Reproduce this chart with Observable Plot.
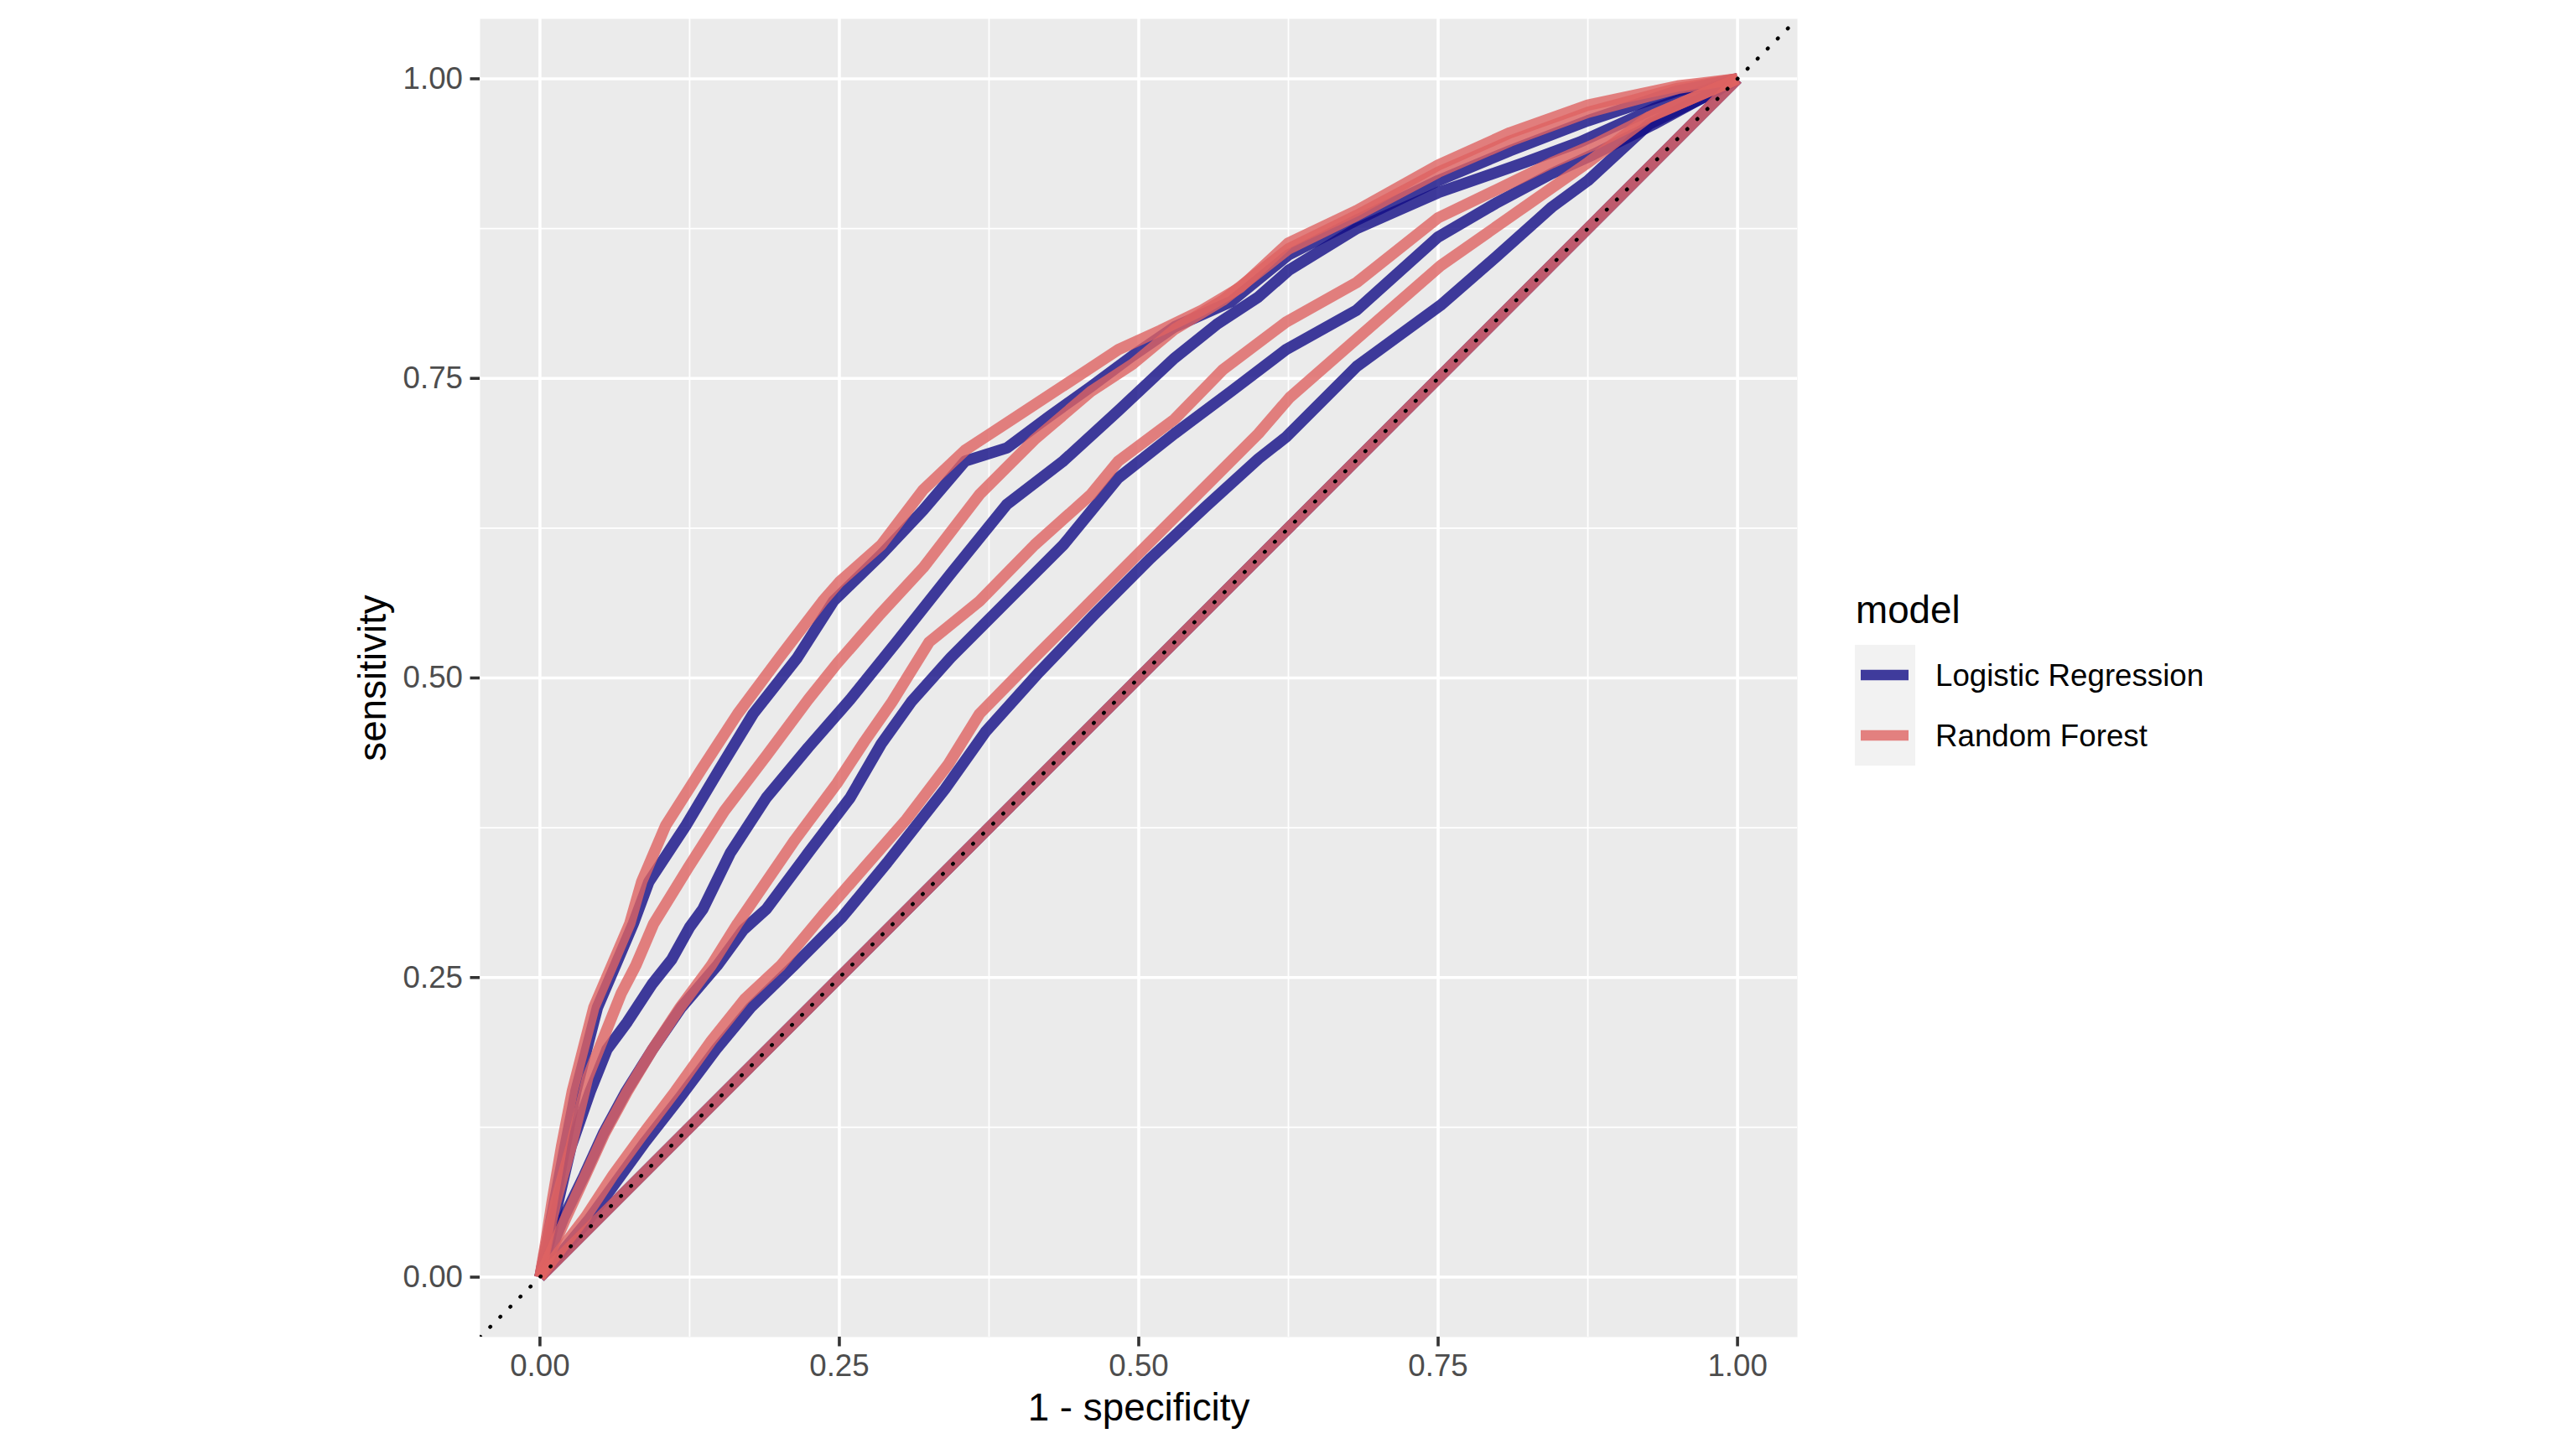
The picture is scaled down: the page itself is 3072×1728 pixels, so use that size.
<!DOCTYPE html>
<html>
<head>
<meta charset="utf-8">
<script src="https://cdn.jsdelivr.net/npm/d3@7"></script>
<script src="https://cdn.jsdelivr.net/npm/@observablehq/plot@0.6"></script>
<style>
  html, body { margin: 0; padding: 0; background: #ffffff; }
  #wrap { position: relative; width: 3072px; height: 1728px; overflow: hidden; }
  #legend { position: absolute; left: 2200px; top: 690px; }
</style>
</head>
<body>
<div id="wrap"></div>
<script>
// ---- data (1 - specificity, sensitivity) ----
const models = ["Logistic Regression", "Random Forest"];
const modelColors = ["#120C86", "#DE6362"];

const xTicks = [0, 0.25, 0.5, 0.75, 1];
const xMinor = [0.125, 0.375, 0.625, 0.875];
const yTicks = [0, 0.25, 0.5, 0.75, 1];
const yMinor = [0.125, 0.375, 0.625, 0.875];
const axisDomain = [-0.05, 1.05];

const lr1 = [[0,0],[0.006,0.03],[0.012,0.062],[0.021,0.109],[0.03,0.155],[0.039,0.19],[0.048,0.225],[0.063,0.26],[0.078,0.295],[0.091,0.33],[0.122,0.377],[0.15,0.424],[0.178,0.47],[0.215,0.517],[0.245,0.564],[0.285,0.603],[0.32,0.64],[0.355,0.681],[0.39,0.692],[0.425,0.718],[0.46,0.743],[0.495,0.769],[0.53,0.793],[0.577,0.814],[0.625,0.853],[0.682,0.882],[0.75,0.915],[0.81,0.94],[0.875,0.965],[0.95,0.99],[1,1]];
const lr2 = [[0,0],[0.008,0.03],[0.015,0.062],[0.026,0.109],[0.042,0.155],[0.056,0.19],[0.073,0.213],[0.094,0.245],[0.11,0.265],[0.125,0.292],[0.136,0.307],[0.159,0.354],[0.189,0.4],[0.224,0.442],[0.259,0.482],[0.297,0.529],[0.343,0.587],[0.39,0.645],[0.437,0.681],[0.483,0.723],[0.53,0.767],[0.565,0.795],[0.6,0.818],[0.625,0.84],[0.682,0.875],[0.75,0.905],[0.822,0.93],[0.868,0.947],[0.93,0.975],[1,1]];
const lr3 = [[0,0],[0.02,0.05],[0.037,0.085],[0.053,0.12],[0.072,0.155],[0.094,0.19],[0.118,0.225],[0.148,0.26],[0.17,0.29],[0.189,0.307],[0.224,0.354],[0.259,0.4],[0.285,0.445],[0.31,0.48],[0.343,0.517],[0.39,0.564],[0.437,0.611],[0.483,0.667],[0.53,0.704],[0.577,0.739],[0.623,0.774],[0.682,0.807],[0.75,0.868],[0.798,0.896],[0.845,0.921],[0.88,0.937],[0.93,0.962],[1,1]];
const lr4 = [[0,0],[0.016,0.018],[0.04,0.047],[0.064,0.08],[0.088,0.113],[0.117,0.15],[0.147,0.19],[0.176,0.225],[0.212,0.26],[0.252,0.3],[0.29,0.346],[0.338,0.407],[0.372,0.455],[0.417,0.505],[0.463,0.553],[0.51,0.6],[0.556,0.643],[0.6,0.683],[0.623,0.701],[0.682,0.76],[0.752,0.811],[0.798,0.851],[0.845,0.893],[0.875,0.915],[0.926,0.962],[0.983,0.99],[1,1]];
const lr5 = [[0,0],[1,1]];

const rf1 = [[0,0],[0.005,0.03],[0.01,0.062],[0.018,0.109],[0.027,0.155],[0.036,0.19],[0.045,0.225],[0.06,0.26],[0.075,0.295],[0.085,0.33],[0.105,0.377],[0.135,0.424],[0.165,0.47],[0.2,0.517],[0.236,0.564],[0.25,0.58],[0.285,0.611],[0.32,0.657],[0.355,0.69],[0.381,0.707],[0.413,0.728],[0.448,0.751],[0.483,0.774],[0.518,0.79],[0.553,0.807],[0.585,0.826],[0.625,0.863],[0.682,0.89],[0.75,0.928],[0.81,0.955],[0.875,0.978],[0.95,0.994],[1,1]];
const rf2 = [[0,0],[0.006,0.03],[0.013,0.062],[0.026,0.109],[0.04,0.167],[0.052,0.197],[0.068,0.237],[0.08,0.26],[0.095,0.295],[0.124,0.342],[0.154,0.389],[0.189,0.435],[0.224,0.482],[0.248,0.512],[0.283,0.552],[0.32,0.592],[0.367,0.653],[0.413,0.699],[0.46,0.739],[0.495,0.762],[0.53,0.791],[0.57,0.815],[0.625,0.858],[0.682,0.886],[0.75,0.922],[0.81,0.948],[0.875,0.972],[0.95,0.992],[1,1]];
const rf3 = [[0,0],[0.022,0.05],[0.038,0.085],[0.054,0.12],[0.073,0.155],[0.094,0.19],[0.117,0.225],[0.143,0.26],[0.165,0.295],[0.213,0.365],[0.248,0.412],[0.271,0.447],[0.294,0.48],[0.325,0.53],[0.367,0.564],[0.413,0.611],[0.46,0.653],[0.483,0.681],[0.53,0.716],[0.57,0.757],[0.623,0.797],[0.682,0.83],[0.75,0.884],[0.798,0.907],[0.845,0.93],[0.88,0.945],[0.93,0.97],[1,1]];
const rf4 = [[0,0],[0.015,0.02],[0.038,0.05],[0.061,0.085],[0.085,0.118],[0.113,0.155],[0.143,0.197],[0.171,0.232],[0.201,0.26],[0.236,0.302],[0.271,0.342],[0.306,0.382],[0.341,0.428],[0.367,0.47],[0.413,0.517],[0.46,0.564],[0.507,0.611],[0.553,0.657],[0.6,0.704],[0.626,0.734],[0.682,0.783],[0.752,0.844],[0.822,0.893],[0.875,0.93],[0.926,0.968],[1,1]];
const rf5 = [[0,0],[1,1]];

// ---- table built from the arrays ----
const curveSets = [
  {model: models[0], curves: [lr1, lr2, lr3, lr4, lr5]},
  {model: models[1], curves: [rf1, rf2, rf3, rf4, rf5]}
];
const rows = curveSets.flatMap(({model, curves}) =>
  curves.flatMap((pts, i) => pts.map(([fpr, tpr]) => ({model, id: model + "-" + i, fpr, tpr})))
);
const refLine = axisDomain.map(v => ({fpr: v, tpr: v}));

const FONT = "'Liberation Sans', Arial, Helvetica, sans-serif";

const chart = Plot.plot({
  width: 3072,
  height: 1728,
  marginLeft: 572,
  marginRight: 929,
  marginTop: 22,
  marginBottom: 134,
  style: {fontFamily: FONT, background: "#ffffff"},
  x: {domain: axisDomain},
  y: {domain: axisDomain},
  color: {domain: models, range: modelColors},
  marks: [
    Plot.frame({fill: "#EBEBEB", stroke: null}),
    Plot.gridX(xMinor, {stroke: "#ffffff", strokeOpacity: 1, strokeWidth: 1.8}),
    Plot.gridY(yMinor, {stroke: "#ffffff", strokeOpacity: 1, strokeWidth: 1.8}),
    Plot.gridX(xTicks, {stroke: "#ffffff", strokeOpacity: 1, strokeWidth: 3.6}),
    Plot.gridY(yTicks, {stroke: "#ffffff", strokeOpacity: 1, strokeWidth: 3.6}),
    Plot.axisX(xTicks, {tickFormat: d3.format(".2f"), tickSize: 11.5, tickPadding: 9, fontSize: 36.7,
      fill: "#4D4D4D", stroke: "#333333", strokeWidth: 3.6, label: null}),
    Plot.axisY(yTicks, {tickFormat: d3.format(".2f"), tickSize: 11.5, tickPadding: 9, fontSize: 36.7,
      fill: "#4D4D4D", stroke: "#333333", strokeWidth: 3.6, label: null}),
    Plot.line(rows, {x: "fpr", y: "tpr", z: "id", stroke: "model", strokeOpacity: 0.8,
      strokeWidth: 13.5, strokeLinejoin: "round", strokeLinecap: "butt", curve: "linear"}),
    Plot.line(refLine, {x: "fpr", y: "tpr", stroke: "#000000", strokeWidth: 4.5,
      strokeDasharray: "0.5,16.47", strokeLinecap: "round", clip: true}),
    Plot.text(["1 - specificity"], {text: d => d, frameAnchor: "bottom", lineAnchor: "middle", textAnchor: "middle",
      dy: 85, fontSize: 45.8, fill: "#000000"}),
    Plot.text(["sensitivity"], {text: d => d, frameAnchor: "left", textAnchor: "middle", lineAnchor: "middle",
      rotate: -90, dx: -127, fontSize: 45.8, fill: "#000000"})
  ]
});
document.getElementById("wrap").appendChild(chart);

// ---- legend (ggplot style, to the right of the panel) ----
const ns = "http://www.w3.org/2000/svg";
const lg = document.createElementNS(ns, "svg");
lg.setAttribute("id", "legend");
lg.setAttribute("width", 700);
lg.setAttribute("height", 260);
lg.style.fontFamily = FONT;
const mk = (tag, attrs, txt) => {
  const e = document.createElementNS(ns, tag);
  for (const k in attrs) e.setAttribute(k, attrs[k]);
  if (txt != null) e.textContent = txt;
  lg.appendChild(e);
  return e;
};
mk("text", {x: 13, y: 53, "font-size": 45.8, fill: "#000000"}, "model");
models.forEach((m, i) => {
  const top = 79 + i * 72;
  mk("rect", {x: 12, y: top, width: 72, height: 72, fill: "#F2F2F2"});
  mk("line", {x1: 19, x2: 76, y1: top + 36, y2: top + 36, stroke: modelColors[i], "stroke-opacity": 0.8, "stroke-width": 12.7});
  mk("text", {x: 108, y: top + 36, dy: "0.35em", "font-size": 36.7, fill: "#000000"}, m);
});
document.getElementById("wrap").appendChild(lg);
</script>
</body>
</html>
